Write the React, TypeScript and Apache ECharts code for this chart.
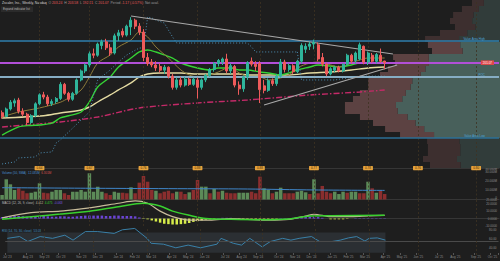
import React, { useEffect, useRef } from "react";
import * as echarts from "echarts";

const FONT = "Liberation Sans, Arial, sans-serif";
const BG = "#1e1e1e";
const UP = "#2fb59b";
const DOWN = "#ef5b5b";
const MONTH_NAMES = ["Jan", "Feb", "Mar", "Apr", "May", "Jun", "Jul", "Aug", "Sep", "Oct", "Nov", "Dec"];
const DAY = 86400000;
const FIRST_WEEK = Date.UTC(2023, 5, 26);
const WEEK_COUNT = 120;

const weeks: string[] = [];
for (let i = 0; i < WEEK_COUNT; i++) weeks.push(new Date(FIRST_WEEK + i * 7 * DAY).toISOString().slice(0, 10));

// weekly candles [open, high, low, close]
const ohlc: number[][] = [
  [134, 137, 126, 129], [129, 141, 128, 139], [139, 151, 137, 148], [147, 153, 142, 150], [151, 154, 133, 136],
  [136, 140, 129, 132], [132, 134, 117, 121], [121, 132, 119, 130], [130, 148, 128, 146], [146, 160, 144, 158],
  [158, 162, 152, 155], [155, 158, 143, 146], [146, 152, 143, 149], [149, 155, 146, 153], [153, 175, 151, 172],
  [172, 174, 158, 160], [160, 162, 149, 152], [152, 162, 150, 160], [160, 180, 158, 178], [178, 192, 176, 190],
  [190, 200, 187, 198], [198, 216, 195, 213], [213, 220, 207, 211], [211, 228, 209, 226], [224, 232, 219, 229],
  [229, 233, 218, 221], [221, 226, 210, 214], [214, 240, 212, 237], [237, 245, 230, 241], [243, 247, 235, 238],
  [238, 252, 236, 250], [249, 262, 238, 258], [258, 260, 246, 250], [250, 254, 238, 242], [242, 246, 203, 208],
  [208, 214, 197, 200], [202, 206, 195, 198], [198, 203, 190, 194], [196, 200, 188, 191], [191, 198, 186, 195],
  [195, 196, 180, 183], [183, 186, 165, 168], [168, 181, 165, 178], [178, 182, 168, 171], [171, 182, 169, 179],
  [179, 181, 170, 172], [172, 181, 170, 179], [178, 181, 153, 168], [168, 180, 165, 178], [178, 186, 175, 184],
  [184, 194, 182, 192], [192, 202, 189, 200], [200, 206, 196, 204], [202, 208, 198, 206], [206, 213, 187, 190],
  [190, 200, 186, 197], [196, 198, 168, 171], [171, 176, 158, 166], [166, 184, 162, 182], [182, 203, 178, 201],
  [203, 208, 196, 199], [199, 203, 190, 196], [200, 203, 147, 165], [170, 178, 160, 164], [164, 180, 162, 177],
  [177, 180, 170, 173], [173, 186, 170, 183], [183, 206, 181, 202], [202, 205, 188, 192], [192, 200, 189, 197],
  [197, 199, 186, 189], [189, 205, 187, 203], [203, 227, 200, 224], [219, 227, 214, 223], [223, 229, 218, 226],
  [226, 232, 219, 228], [225, 228, 203, 206], [208, 214, 196, 199], [199, 201, 183, 186], [186, 195, 184, 193],
  [191, 197, 188, 195], [195, 197, 188, 190], [190, 200, 188, 199], [199, 213, 197, 211], [211, 213, 200, 203],
  [204, 216, 200, 214], [206, 228, 204, 225], [223, 224, 199, 202], [202, 216, 198, 214], [211, 214, 201, 203],
  [203, 214, 200, 212], [211, 220, 201, 203], [203.24, 203.58, 192.21, 201.07],
];

// volume in millions, and bar direction (1 = up / green)
const volume = [
  5.2, 23.3, 17.5, 11, 12.9, 10.1, 7.2, 7.8, 9, 18.7,
  7.8, 7.2, 9, 11, 11, 7.2, 5.2, 9, 9, 11,
  9, 30.2, 9, 14.8, 9, 7.2, 5.2, 9, 7.8, 7.8,
  7.2, 14.1, 7.2, 19.4, 27.1, 20.5, 11, 10.1, 7.2, 9,
  10.1, 7.2, 9, 9, 6.3, 8.3, 11, 22.5, 14.8, 14.8,
  7.2, 12.1, 9, 10.1, 7.8, 7.2, 7.2, 7.8, 7.8, 7.8,
  9, 7.2, 26.3, 12.9, 11, 7.2, 9, 13.6, 7.2, 7.2,
  7.2, 9, 10.1, 8.3, 6.3, 23.3, 7.2, 15.6, 9, 7.2,
  9, 6.3, 9, 7.8, 9, 9, 7.2, 7.2, 20.5, 12.9,
  7.8, 10.1, 6.3,
];
const volumeUp = [
  1, 1, 1, 1, 0, 0, 0, 1, 1, 1,
  0, 0, 1, 1, 1, 0, 0, 1, 1, 1,
  1, 1, 1, 1, 1, 0, 0, 1, 1, 0,
  0, 1, 0, 0, 0, 0, 0, 1, 0, 0,
  0, 0, 1, 0, 0, 1, 0, 0, 1, 1,
  0, 1, 0, 1, 0, 0, 0, 1, 1, 1,
  0, 0, 0, 1, 1, 0, 1, 1, 0, 0,
  0, 1, 1, 1, 0, 1, 0, 0, 0, 0,
  1, 1, 1, 0, 1, 1, 0, 0, 1, 0,
  1, 0, 0,
];
const volumeSma: [number, number][] = [[0, 13.6], [20, 13], [40, 12.5], [59, 12.1], [75, 11], [92, 10.5]];

// price overlays [week index, price]
const emaFast: [number, number][] = [
  [0, 128.3], [4, 135], [9, 140.4], [14, 148], [16, 153.8], [19, 164.5], [21, 181.9], [23, 200.6], [26, 211.4],
  [28, 222.1], [31, 231.4], [33, 242.2], [35, 235.5], [37, 222.1], [40, 207.3], [43, 191.3], [45, 184.6],
  [47, 181.9], [50, 184.6], [52, 188.6], [55, 195.3], [57, 187.3], [60, 181.9], [62, 181.9], [64, 177.9],
  [67, 180.6], [69, 184.6], [71, 194], [74, 200.6], [76, 202], [79, 198], [81, 195.3], [84, 200.6], [86, 204.7],
  [88, 207.3], [92, 207.3],
];
const emaMid: [number, number][] = [
  [0, 104], [4, 115], [7, 117], [9, 117.6], [12, 120], [14, 127], [16, 130], [19, 135], [21, 148.4], [23, 168.5],
  [26, 181.9], [28, 195.3], [31, 207.3], [33, 215.4], [35, 218], [37, 215.4], [39, 211.4], [41, 207.3], [43, 200.6],
  [47, 194], [50, 191.3], [52, 194], [55, 194], [57, 191.3], [59, 191.3], [62, 188.6], [64, 187.3], [67, 184.6],
  [69, 187.3], [71, 191.3], [74, 195.3], [76, 198], [79, 196.6], [81, 195.3], [84, 198], [86, 200.6], [88, 200.6],
  [92, 202],
];
const sma50: [number, number][] = [
  [0, 127], [10, 130], [14, 133.7], [19, 137.7], [21, 141.7], [23, 148.4], [26, 157.8], [28, 164.5], [31, 173.9],
  [33, 181.9], [35, 185.9], [38, 187.3], [43, 187.3], [47, 185.9], [52, 185.9], [57, 185.9], [59, 184.6],
  [64, 184.6], [69, 184.6], [74, 187.3], [79, 188.6], [84, 191.3], [88, 194], [92, 195.3],
];
const sma200: [number, number][] = [
  [0, 115], [14, 121.7], [23, 128.3], [33, 140.4], [47, 147.1], [59, 151.1], [74, 157.8], [86, 161.8], [92, 164.5],
];
const stopLong1: [number, number][] = [
  [0, 65.4], [3, 68.1], [4, 73.5], [8, 74.8], [9, 80.1], [12, 81.5], [13, 93.5], [14, 97.5], [17, 113.6],
  [19, 124.3], [21, 135], [22, 157.8], [23, 177.9], [26, 191.3], [28, 202], [30, 211.4], [33, 220.7], [34, 220.7],
];
const stopShort: [number, number][] = [
  [34, 220.7], [35, 262.2], [36, 260.9], [37, 258.2], [39, 254.2], [40, 244.8], [41, 235.5], [42, 227.4],
  [59, 227.4], [60, 222.1], [61, 215.4], [71, 215.4],
];
const stopLong2: [number, number][] = [[71, 215.4], [72, 177.9], [80, 177.9], [83, 180.6], [86, 183], [92, 183]];

// trend lines: [[week, price], [week, price]]
const trendLines: [number, number][][] = [
  [[31, 263.6], [94, 212.7]],
  [[63, 144.4], [95, 198]],
];

// volume profile levels
const VALUE_AREA_HIGH = 230.1;
const POINT_OF_CONTROL = 181.9;
const VALUE_AREA_LOW = 100.2;
const LAST_PRICE = 201.07;

// volume profile rows, top to bottom
const profileDown = [7, 10, 12, 13, 12, 16, 20, 19, 18, 21, 20, 22, 24, 26, 25, 27, 29, 30, 31, 28, 25, 23, 20, 19, 19, 19, 20, 18];
const profileUp = [9.5, 12.4, 15.6, 16.4, 14.5, 19.3, 24.1, 23.4, 22, 41.9, 41.8, 43.9, 46.6, 51.6, 52.6, 55.4, 57.5, 61.2, 60.2, 54.4, 49.7, 44.6, 38.8, 23.9, 23.4, 23.4, 25.3, 23.2];

// earnings events
const earningsWeeks = [9, 21, 34, 47, 62, 75, 88, 100, 114];
const earningsText = ["0.64", "0.67", "0.76", "0.88", "0.88", "0.77", "0.78", "0.76", "0.80"];

// MACD
const macdLine: [number, number][] = [
  [0, 1], [7, 8], [14, 10], [19, 13], [23, 16], [28, 20.6], [32, 23.7], [35, 20.6], [38, 10], [41, 2.6], [45, -2],
  [50, -2], [55, 0], [59, -1], [64, -2], [69, -1], [73, 3.5], [75, 5.8], [79, 2.6], [84, 2.6], [88, 3.5], [92, 4.4],
];
const signalLine: [number, number][] = [
  [0, -1], [7, 2.6], [14, 6], [21, 10], [28, 16], [34, 20.6], [38, 17], [41, 10], [45, 4.4], [49, 0], [55, -1],
  [62, -1.5], [69, -0.5], [74, 3.5], [79, 3.8], [92, 4.4],
];
const macdHist = [
  2, 2.5, 3, 3.5, 3.5, 3, 2.5, 2.5, 3, 3.5,
  3.5, 3, 2.5, 2.5, 3, 3, 2.5, 2.5, 3, 3.5,
  4, 4, 4, 4, 4, 3.5, 3.5, 4, 4, 3.5,
  3.5, 3.5, 3, 1.5, -0.5, -1, -2.5, -4, -5.5, -7,
  -7.5, -8, -8, -7.5, -7, -6, -4.5, -3.5, -2.5, -1.5,
  -1, -0.5, 0.5, 1, 1, 1, 0.5, -0.5, -1, -1,
  -1, -1, -1.5, -1.5, -1, -1, -0.5, 0.5, 0.5, 0.5,
  1, 1.5, 2, 2.5, 2.5, 2.5, 2, 1, 0, -1,
  -1, -1, -1, -0.5, 0, 0.5, 0.5, 0.5, 0.5, 0.5,
  0.5, 0.5, 0.5,
];

// RSI
const rsi: [number, number][] = [
  [0, 57], [3, 61], [5, 50], [8, 61], [11, 57], [14, 64], [16, 53], [19, 72], [22, 72], [26, 68], [28, 76], [31, 79],
  [34, 57], [35, 46], [38, 44], [41, 36], [44, 42], [47, 36], [51, 44], [52, 57], [55, 46], [57, 42], [59, 57],
  [62, 38], [64, 50], [67, 57], [69, 53], [71, 57], [74, 61], [76, 50], [79, 50], [81, 53], [83, 58], [85, 61],
  [87, 51], [88, 57], [90, 58], [92, 53],
];

const PRICE_MIN = 60;
const PRICE_MAX = 285;

function monthStartLabel(value: string): string | null {
  const d = new Date(value + "T00:00:00Z").getTime();
  for (let k = 0; k < 7; k++) {
    const e = new Date(d + k * DAY);
    if (e.getUTCDate() === 1) return `${MONTH_NAMES[e.getUTCMonth()]} '${String(e.getUTCFullYear()).slice(2)}`;
  }
  return null;
}

const pts = (arr: [number, number][]) => arr.map(([i, v]) => [weeks[i], v]);

function buildOption(): any {
  const rowCount = profileUp.length;
  const rowSize = (PRICE_MAX - PRICE_MIN) / rowCount;
  const rowPrice = profileUp.map((_, k) => PRICE_MAX - (k + 0.5) * rowSize);
  const inVA = (k: number) => rowPrice[k] <= VALUE_AREA_HIGH && rowPrice[k] >= VALUE_AREA_LOW;

  const axisLabelBase = { inside: true, fontSize: 3, color: "#8e8e8e", fontFamily: FONT, margin: 2 };
  const catAxis = (gridIndex: number, showLine: boolean) => ({
    type: "category",
    gridIndex,
    data: weeks,
    boundaryGap: true,
    axisLabel: { show: false },
    axisTick: { show: false },
    axisLine: { show: showLine, lineStyle: { color: "#363636", width: 1 } },
    splitLine: { show: false },
  });

  const earningsLines = (withLabel: boolean) =>
    earningsWeeks.map((w, k) => ({
      xAxis: weeks[w],
      lineStyle: { color: "#3d3222", width: 0.8, type: [2, 2] },
      label: withLabel
        ? {
            show: true,
            position: "start",
            distance: -2,
            formatter: earningsText[k],
            backgroundColor: "#e6a23c",
            color: "#3a2600",
            fontSize: 3,
            fontFamily: FONT,
            padding: [0.6, 2],
            borderRadius: 0.6,
          }
        : { show: false },
    }));

  const levelLabel = (text: string, color: string) => ({
    show: true,
    position: "insideEndTop",
    formatter: text,
    color,
    fontSize: 3,
    fontFamily: FONT,
    distance: [14, 1],
  });

  const priceLine = (data: [number, number][], color: string, width: number, type: any, z: number, smooth: any) => ({
    type: "line",
    xAxisIndex: 0,
    yAxisIndex: 0,
    data: pts(data),
    symbol: "none",
    smooth,
    silent: true,
    z,
    lineStyle: { color, width, type },
  });

  return {
    animation: false,
    backgroundColor: BG,
    grid: [
      { left: 0, right: 0, top: 0, height: 168 },
      { left: 330, right: 0, top: 0, height: 168 },
      { left: 0, right: 0, top: 170, height: 29.5 },
      { left: 0, right: 0, top: 200, height: 26 },
      { left: 0, right: 0, top: 228, height: 27 },
    ],
    xAxis: [
      catAxis(0, true),
      { type: "value", gridIndex: 1, inverse: true, min: 0, max: 100, show: false },
      catAxis(2, true),
      catAxis(3, true),
      {
        ...catAxis(4, false),
        axisTick: {
          show: true,
          inside: true,
          length: 2,
          lineStyle: { color: "#555" },
          interval: (_i: number, v: string) => monthStartLabel(v) !== null,
        },
        axisLabel: {
          show: true,
          fontSize: 3,
          color: "#8a8a8a",
          fontFamily: FONT,
          margin: 0,
          interval: (_i: number, v: string) => monthStartLabel(v) !== null,
          formatter: (v: string) => monthStartLabel(v) ?? "",
        },
      },
    ],
    yAxis: [
      {
        type: "value",
        gridIndex: 0,
        position: "right",
        min: PRICE_MIN,
        max: PRICE_MAX,
        interval: 15,
        axisLine: { show: false },
        axisTick: { show: false },
        splitLine: { show: false },
        axisLabel: { ...axisLabelBase, showMinLabel: false, showMaxLabel: false, formatter: (v: number) => v.toFixed(2) },
      },
      { type: "category", gridIndex: 1, data: rowPrice.map((p) => p.toFixed(2)), inverse: true, show: false },
      {
        type: "value",
        gridIndex: 2,
        position: "right",
        min: 0,
        max: 34,
        interval: 10,
        axisLine: { show: false },
        axisTick: { show: false },
        splitLine: { show: false },
        axisLabel: { ...axisLabelBase, verticalAlign: "bottom", formatter: (v: number) => (v === 0 ? "0" : v.toFixed(3) + "M") },
      },
      {
        type: "value",
        gridIndex: 3,
        position: "right",
        min: -10,
        max: 25,
        interval: 10,
        axisLine: { show: false },
        axisTick: { show: false },
        splitLine: { show: false },
        axisLabel: { ...axisLabelBase, verticalAlign: "middle", formatter: (v: number) => v.toFixed(4) },
      },
      {
        type: "value",
        gridIndex: 4,
        position: "right",
        min: 20,
        max: 80,
        interval: 20,
        axisLine: { show: false },
        axisTick: { show: false },
        splitLine: { show: false },
        axisLabel: { ...axisLabelBase, verticalAlign: "top", showMinLabel: false, formatter: (v: number) => v.toFixed(2) },
      },
    ],
    series: [
      {
        type: "bar",
        xAxisIndex: 1,
        yAxisIndex: 1,
        stack: "vp",
        barCategoryGap: "0%",
        silent: true,
        z: 1,
        data: profileUp.map((v, k) => ({ value: v, itemStyle: { color: inVA(k) ? "#48605b" : "#313c3a" } })),
      },
      {
        type: "bar",
        xAxisIndex: 1,
        yAxisIndex: 1,
        stack: "vp",
        barCategoryGap: "0%",
        silent: true,
        z: 1,
        data: profileDown.map((v, k) => ({ value: v, itemStyle: { color: inVA(k) ? "#5c4242" : "#3d2f2f" } })),
      },
      priceLine(sma200, "#c42a68", 1.4, [6, 2, 1.5, 2], 3, 0.3),
      priceLine(sma50, "#e4dba2", 1.4, "solid", 3, 0.3),
      priceLine(emaMid, "#35d335", 1.4, "solid", 3, 0.3),
      priceLine(emaFast, "#8e7c3a", 1, "solid", 3, 0.3),
      priceLine(stopLong1, "#4d8fb5", 1, [1, 2], 3, false),
      priceLine(stopShort, "#4d8fb5", 1, [1, 2], 3, false),
      priceLine(stopLong2, "#4d8fb5", 1, [1, 2], 3, false),
      {
        type: "candlestick",
        xAxisIndex: 0,
        yAxisIndex: 0,
        z: 5,
        barWidth: "60%",
        data: ohlc.map(([o, h, l, c]) => [o, c, l, h]),
        itemStyle: { color: UP, color0: DOWN, borderColor: UP, borderColor0: DOWN, borderWidth: 1 },
        markLine: {
          silent: true,
          symbol: ["none", "none"],
          label: { show: false },
          data: [
            ...earningsLines(true),
            { yAxis: VALUE_AREA_HIGH, lineStyle: { color: "#2f7fae", width: 1.5, type: "solid" }, label: levelLabel("Value Area High", "#4aa3d6") },
            { yAxis: POINT_OF_CONTROL, lineStyle: { color: "#86adc4", width: 1.8, type: "solid" }, label: levelLabel("POC", "#4aa3d6") },
            { yAxis: VALUE_AREA_LOW, lineStyle: { color: "#2b6f96", width: 1.5, type: "solid" }, label: levelLabel("Value Area Low", "#4aa3d6") },
            {
              yAxis: LAST_PRICE,
              lineStyle: { color: "#b24fd8", width: 2.2, type: "solid" },
              label: {
                show: true,
                position: "insideEnd",
                formatter: LAST_PRICE.toFixed(2),
                backgroundColor: "#e04848",
                color: "#ffffff",
                fontSize: 3,
                fontFamily: FONT,
                padding: [0.8, 2],
              },
            },
            ...trendLines.map(([a, b]) => [
              { coord: [weeks[a[0]], a[1]], lineStyle: { color: "#a8a8a8", width: 1.2, type: "solid" } },
              { coord: [weeks[b[0]], b[1]] },
            ]),
          ],
        },
      },
      {
        type: "bar",
        xAxisIndex: 2,
        yAxisIndex: 2,
        barCategoryGap: "16%",
        silent: true,
        data: volume.map((v, i) => ({ value: v, itemStyle: { color: volumeUp[i] ? "#5c8a58" : "#8a2e2e" } })),
        markLine: { silent: true, symbol: ["none", "none"], label: { show: false }, data: earningsLines(false) },
      },
      {
        type: "line",
        xAxisIndex: 2,
        yAxisIndex: 2,
        data: pts(volumeSma),
        symbol: "none",
        smooth: 0.3,
        silent: true,
        lineStyle: { color: "#3f86c9", width: 1 },
      },
      {
        type: "bar",
        xAxisIndex: 3,
        yAxisIndex: 3,
        barCategoryGap: "40%",
        silent: true,
        data: macdHist.map((v) => ({ value: v, itemStyle: { color: v >= 0 ? "#6b44d6" : "#d6ec4a" } })),
        markLine: { silent: true, symbol: ["none", "none"], label: { show: false }, data: earningsLines(false) },
      },
      {
        type: "line",
        xAxisIndex: 3,
        yAxisIndex: 3,
        data: pts(macdLine),
        symbol: "none",
        smooth: 0.3,
        silent: true,
        lineStyle: { color: "#c8bc9a", width: 1.2 },
      },
      {
        type: "line",
        xAxisIndex: 3,
        yAxisIndex: 3,
        data: pts(signalLine),
        symbol: "none",
        smooth: 0.3,
        silent: true,
        lineStyle: { color: "#39d12f", width: 1.5 },
      },
      {
        type: "line",
        xAxisIndex: 4,
        yAxisIndex: 4,
        data: pts(rsi),
        symbol: "none",
        silent: true,
        z: 4,
        lineStyle: { color: "#3a80a8", width: 1 },
        markArea: {
          silent: true,
          itemStyle: { color: "#2b2f33" },
          data: [[{ xAxis: weeks[0], yAxis: 25 }, { xAxis: weeks[ohlc.length - 1], yAxis: 70 }]],
        },
        markLine: {
          silent: true,
          symbol: ["none", "none"],
          label: { show: false },
          data: [{ yAxis: 50, lineStyle: { color: "#4a4a4a", width: 1, type: "solid" } }, ...earningsLines(false)],
        },
      },
    ],
    graphic: [
      {
        type: "text",
        x: 2,
        y: 1.2,
        silent: true,
        style: {
          text:
            "{n|Zscaler, Inc., Weekly, Nasdaq}  {k|O} {v|203.24}  {k|H} {v|203.58}  {k|L} {v|192.21}  {k|C} {v|201.07}  {k|Period} {v|-1.17 (-0.57%)}  {k|Not avail.}",
          fontSize: 3.4,
          fontFamily: FONT,
          fill: "#cfcfcf",
          verticalAlign: "top",
          rich: {
            n: { fill: "#d4d4d4", fontSize: 3.4, fontFamily: FONT },
            k: { fill: "#9a9a9a", fontSize: 3.4, fontFamily: FONT },
            v: { fill: "#e85a5a", fontSize: 3.4, fontFamily: FONT },
          },
        },
      },
      { type: "rect", shape: { x: 1, y: 6.5, width: 32, height: 5.5 }, silent: true, style: { fill: "#2b2b2b" } },
      {
        type: "text",
        x: 3,
        y: 7.6,
        silent: true,
        style: { text: "Expand indicator list", fontSize: 3, fontFamily: FONT, fill: "#b5b5b5", verticalAlign: "top" },
      },
      {
        type: "text",
        x: 2,
        y: 171.5,
        silent: true,
        style: {
          text: "{b|Volume (50, SMA)}  {b|12.035M}  {r|6.301M}",
          fontSize: 3,
          fontFamily: FONT,
          verticalAlign: "top",
          rich: {
            b: { fill: "#4a8fd0", fontSize: 3, fontFamily: FONT },
            r: { fill: "#d9534f", fontSize: 3, fontFamily: FONT },
          },
        },
      },
      {
        type: "text",
        x: 2,
        y: 201.3,
        silent: true,
        style: {
          text: "{w|MACD (12, 26, 9, close)}  {t|4.412}  {g|4.475}  {p|-0.063}",
          fontSize: 3,
          fontFamily: FONT,
          verticalAlign: "top",
          rich: {
            w: { fill: "#bdbdbd", fontSize: 3, fontFamily: FONT },
            t: { fill: "#c8bc9a", fontSize: 3, fontFamily: FONT },
            g: { fill: "#39d12f", fontSize: 3, fontFamily: FONT },
            p: { fill: "#7b56e0", fontSize: 3, fontFamily: FONT },
          },
        },
      },
      {
        type: "text",
        x: 2,
        y: 229,
        silent: true,
        style: { text: "RSI (14, 70, 30, close)  53.03", fontSize: 3, fontFamily: FONT, fill: "#3f8fc0", verticalAlign: "top" },
      },
    ],
  };
}

export default function App() {
  const ref = useRef<HTMLDivElement>(null);
  useEffect(() => {
    if (!ref.current) return;
    const chart = echarts.init(ref.current, null, { renderer: "svg" });
    chart.setOption(buildOption());
    return () => chart.dispose();
  }, []);
  return (
    <div
      ref={ref}
      style={{ position: "fixed", left: 0, top: 0, width: 500, height: 261, background: BG }}
    />
  );
}
